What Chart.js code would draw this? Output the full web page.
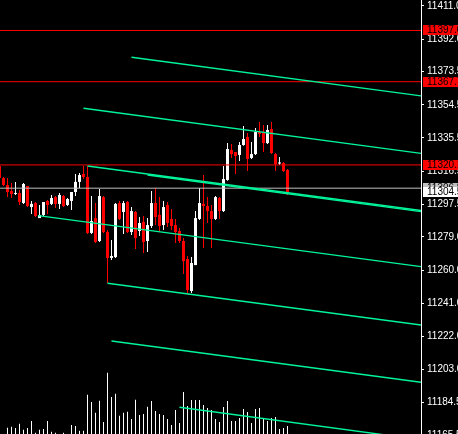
<!DOCTYPE html>
<html>
<head>
<meta charset="utf-8">
<script src="https://cdn.jsdelivr.net/npm/chart.js@4.4.1/dist/chart.umd.min.js"></script>
<style>
  html, body { margin: 0; padding: 0; background: #000; overflow: hidden; }
  canvas { display: block; }
</style>
</head>
<body>
<canvas id="chart" width="458" height="434"></canvas>
<script>
// bar numbers run from -1 (cut by the left edge) to 71
const firstBar = -1;

const opens = [
  11319.5,
  11312.6, 11308.6, 11305.2, 11303.5, 11304.0, 11298.3, 11308.0, 11296.0, 11298.3, 11289.7,
  11291.5, 11299.5, 11297.8, 11301.7, 11297.8, 11302.3, 11297.2, 11299.5, 11304.6, 11310.4,
  11314.9, 11313.2, 11281.2, 11289.7, 11276.6, 11301.7, 11281.7, 11266.9, 11267.4, 11298.3,
  11293.2, 11298.9, 11281.7, 11293.2, 11282.3, 11287.5, 11276.6, 11285.2, 11298.3, 11291.5,
  11285.7, 11297.2, 11289.2, 11285.7, 11282.3, 11276.6, 11266.3, 11248.0, 11262.8, 11289.2,
  11297.8, 11296.6, 11293.7, 11289.2, 11301.2, 11293.7, 11311.5, 11328.6, 11327.5, 11325.8,
  11331.5, 11336.1, 11324.1, 11326.3, 11338.9, 11338.4, 11332.6, 11340.6, 11326.3, 11320.9,
  11321.2, 11317.2
];
const highs = [
  11319.5,
  11313.2, 11312.6, 11309.8, 11310.4, 11305.8, 11309.8, 11308.0, 11299.5, 11298.9, 11297.2,
  11298.9, 11300.0, 11302.9, 11302.3, 11304.0, 11302.9, 11301.2, 11304.6, 11314.9, 11315.5,
  11319.5, 11319.5, 11302.3, 11298.3, 11306.3, 11302.3, 11282.9, 11277.2, 11298.3, 11299.5,
  11299.5, 11299.5, 11296.0, 11293.7, 11290.3, 11290.9, 11289.7, 11305.2, 11306.9, 11301.7,
  11299.5, 11298.9, 11294.9, 11289.2, 11284.0, 11278.3, 11268.0, 11267.4, 11293.7, 11306.9,
  11314.3, 11301.7, 11297.2, 11302.3, 11301.7, 11319.5, 11332.6, 11332.1, 11327.5, 11333.2,
  11342.4, 11338.4, 11333.2, 11341.2, 11344.6, 11342.9, 11342.9, 11344.6, 11326.9, 11324.6,
  11321.8, 11317.8
];
const lows = [
  11312.0,
  11308.0, 11301.7, 11301.2, 11302.9, 11297.2, 11297.8, 11296.0, 11292.0, 11290.3, 11289.7,
  11290.9, 11292.0, 11297.2, 11295.5, 11294.9, 11296.0, 11296.6, 11294.3, 11302.3, 11306.9,
  11312.0, 11280.6, 11280.6, 11275.4, 11276.0, 11281.2, 11252.6, 11265.7, 11266.9, 11288.6,
  11280.6, 11281.2, 11280.0, 11272.0, 11279.4, 11269.7, 11270.3, 11284.0, 11285.7, 11281.7,
  11282.9, 11284.6, 11282.9, 11275.4, 11275.4, 11257.7, 11246.3, 11246.8, 11262.8, 11288.6,
  11272.6, 11286.9, 11272.6, 11288.6, 11289.2, 11293.2, 11311.0, 11324.1, 11314.9, 11322.3,
  11331.0, 11316.6, 11323.5, 11325.8, 11336.1, 11327.5, 11332.1, 11326.3, 11316.6, 11320.1,
  11316.0, 11302.9
];
const closes = [
  11312.6,
  11308.6, 11304.6, 11303.5, 11304.0, 11298.9, 11309.2, 11296.6, 11297.8, 11290.9, 11291.5,
  11298.9, 11297.2, 11301.2, 11297.8, 11302.9, 11296.6, 11300.6, 11304.6, 11310.4, 11314.3,
  11313.2, 11281.2, 11288.0, 11276.0, 11302.3, 11281.7, 11266.9, 11268.0, 11297.8, 11289.2,
  11298.3, 11281.7, 11293.7, 11278.3, 11286.9, 11276.0, 11285.7, 11298.3, 11290.3, 11285.2,
  11296.0, 11286.9, 11285.2, 11281.7, 11276.6, 11265.1, 11248.6, 11264.0, 11289.7, 11298.3,
  11296.6, 11293.7, 11289.2, 11301.7, 11293.7, 11312.0, 11329.2, 11326.3, 11325.2, 11331.5,
  11334.9, 11323.5, 11326.3, 11338.9, 11337.8, 11332.6, 11340.1, 11326.9, 11320.6, 11321.5,
  11316.6, 11304.5
];
const volumes = [
  0,
  0, 63, 73, 60, 103, 43, 60, 130, 13, 43,
  50, 130, 23, 13, 0, 13, 0, 90, 80, 33,
  33, 393, 320, 213, 333, 120, 613, 370, 403, 183,
  213, 223, 150, 343, 190, 200, 273, 330, 230, 200,
  190, 150, 90, 240, 110, 420, 280, 340, 340, 340,
  290, 260, 240, 150, 120, 270, 330, 130, 130, 160,
  250, 220, 110, 250, 260, 160, 130, 160, 170, 50,
  60, 80
];

const priceTicks = [
  11411.0, 11392.0, 11373.5, 11354.5, 11335.5, 11316.5, 11297.5,
  11279.0, 11260.0, 11241.0, 11222.0, 11203.0, 11184.5, 11165.5
];

// horizontal lines: red levels, the silver one and the bid label
const redLevels = [11397.0, 11367.7, 11320.1];
const silverLevels = [11306.8];
const bidPrice = 11304.5;

// channel lines: [bar1, price1, bar2, price2]
const channelLines = [
  [32, 11381.7, 104.375, 11359.6],
  [20, 11352.5, 104.375, 11326.7],
  [21, 11319.5, 104.375, 11294.0],
  [36, 11314.3, 104.375, 11293.4],
  [8.7, 11291.1, 104.375, 11261.9],
  [26, 11252.4, 104.375, 11228.5],
  [27, 11219.4, 104.375, 11195.8],
  [44, 11181.5, 104.375, 11162.9]
];

const X_MIN = -0.875;
const X_MAX = 104.375;
const GREEN = '#00f59b';
const RED = '#ff0000';
const SILVER = '#c0c0c0';
const FONT = '10px "Liberation Sans"';

Chart.defaults.font.family = 'Liberation Sans';

class CandleChart {
  constructor(canvasId) {
    this.canvas = document.getElementById(canvasId);
    this.ctx = this.canvas.getContext('2d');
    this.chart = null;
  }

  candleColor(i) {
    return closes[i] >= opens[i] ? '#ffffff' : RED;
  }

  hLine(price, color) {
    return {
      type: 'line',
      data: [{ x: X_MIN, y: price }, { x: X_MAX, y: price }],
      borderColor: color,
      borderWidth: 1,
      pointRadius: 0,
      order: 0
    };
  }

  render() {
    const bars = opens.map((o, i) => i + firstBar);
    const colorOf = (c) => this.candleColor(c.dataIndex);

    const channels = channelLines.map(t => ({
      type: 'line',
      data: [{ x: t[0], y: t[1] }, { x: t[2], y: t[3] }],
      borderColor: GREEN,
      borderWidth: 1.4,
      pointRadius: 0,
      order: 0
    }));

    const levels = [
      ...redLevels.map(p => this.hLine(p, RED)),
      ...silverLevels.map(p => this.hLine(p, SILVER))
    ];

    this.chart = new Chart(this.ctx, {
      type: 'bar',
      data: {
        datasets: [
          ...channels,
          ...levels,
          {
            data: bars.map((x, i) => ({ x, y: [opens[i], closes[i]] })),
            backgroundColor: colorOf,
            barThickness: 3,
            minBarLength: 1,
            grouped: false,
            inflateAmount: 0,
            order: 1
          },
          {
            data: bars.map((x, i) => ({ x, y: [lows[i], highs[i]] })),
            backgroundColor: colorOf,
            barThickness: 1,
            grouped: false,
            inflateAmount: 0,
            order: 2
          },
          {
            data: bars.map((x, i) => ({ x, y: volumes[i] })),
            yAxisID: 'yv',
            backgroundColor: '#ffffff',
            barThickness: 1,
            grouped: false,
            inflateAmount: 0,
            order: 3
          }
        ]
      },
      options: {
        responsive: false,
        animation: false,
        events: [],
        layout: { padding: 0 },
        plugins: {
          legend: { display: false },
          tooltip: { enabled: false }
        },
        scales: {
          x: { type: 'linear', display: false, min: X_MIN, max: X_MAX, offset: false },
          y: {
            type: 'linear',
            position: 'right',
            min: 11166.2,
            max: 11414.43,
            afterBuildTicks: (s) => { s.ticks = priceTicks.map(value => ({ value })); },
            afterFit: (s) => { s.width = 37; s.paddingTop = 0; s.paddingBottom = 0; },
            grid: { drawOnChartArea: false, color: '#ffffff', tickLength: 3 },
            border: { color: '#ffffff', width: 1 },
            ticks: {
              color: '#ffffff',
              padding: 3,
              autoSkip: false,
              font: { size: 10 },
              callback: (v) => Number(v).toFixed(1)
            }
          },
          yv: { type: 'linear', display: false, min: 0, max: 4340 }
        }
      },
      plugins: [this.priceLabels()]
    });
    return this.chart;
  }

  // price boxes on the right scale
  priceLabels() {
    const box = (ctx, y, text, bg) => {
      const yy = Math.round(y);
      ctx.fillStyle = bg;
      ctx.fillRect(423, yy - 5, 40, 10);
      ctx.fillStyle = '#000000';
      ctx.fillText(text, 427, yy);
    };
    return {
      id: 'priceLabels',
      afterDraw: (chart) => {
        const { ctx } = chart;
        const s = chart.scales.y;
        ctx.save();
        ctx.font = FONT;
        ctx.textAlign = 'left';
        ctx.textBaseline = 'middle';
        redLevels.forEach(p => box(ctx, s.getPixelForValue(p), p.toFixed(1), RED));
        silverLevels.forEach(p => box(ctx, s.getPixelForValue(p), p.toFixed(1), SILVER));
        box(ctx, s.getPixelForValue(bidPrice), bidPrice.toFixed(1), '#ffffff');
        ctx.restore();
      }
    };
  }
}

new CandleChart('chart').render();
</script>
</body>
</html>
